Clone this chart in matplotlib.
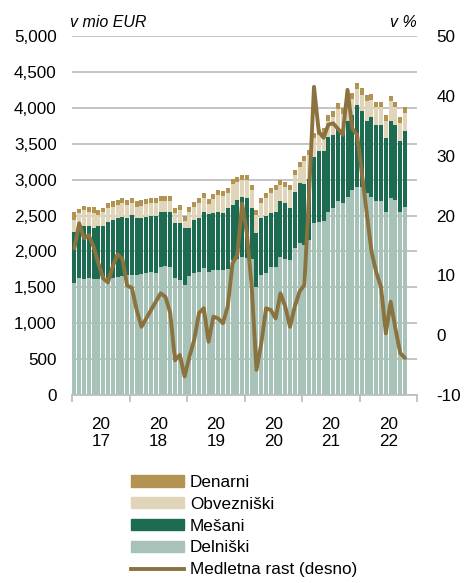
import numpy as np
import matplotlib
matplotlib.use("Agg")
import matplotlib.pyplot as plt
from matplotlib.patches import Patch
from matplotlib.lines import Line2D
from matplotlib.ticker import FuncFormatter

plt.rcParams['font.family'] = ['Liberation Sans', 'DejaVu Sans']
plt.rcParams['axes.unicode_minus'] = False

years = ['20\n17', '20\n18', '20\n19', '20\n20', '20\n21', '20\n22']

# monthly values Jan 2017 - Oct 2022, mio EUR
delniski = [1555, 1625, 1620, 1625, 1620, 1615, 1620, 1625, 1635, 1645, 1655, 1670,
            1672, 1675, 1690, 1705, 1710, 1705, 1785, 1790, 1780, 1625, 1600, 1530,
            1660, 1700, 1710, 1765, 1720, 1745, 1745, 1740, 1760, 1880, 1900, 1920,
            1910, 1900, 1505, 1670, 1700, 1785, 1785, 1925, 1900, 1880, 2045, 2115,
            2090, 2160, 2395, 2415, 2430, 2555, 2600, 2695, 2670, 2760, 2855, 2900,
            2900, 2810, 2760, 2695, 2695, 2555, 2745, 2715, 2555, 2625]
mesani = [720, 730, 740, 730, 700, 740, 735, 790, 805, 815, 830, 800,
          835, 785, 770, 775, 790, 785, 770, 765, 770, 765, 800, 790,
          670, 740, 750, 790, 800, 795, 800, 790, 840, 765, 815, 840,
          835, 705, 750, 795, 790, 745, 765, 770, 770, 720, 785, 835,
          850, 850, 925, 985, 970, 1045, 1020, 1025, 1010, 1050, 1045, 1140,
          1055, 1000, 1115, 1065, 1065, 1025, 1070, 1045, 985, 1055]
obveznisk = [160, 180, 215, 190, 220, 155, 190, 185, 185, 190, 190, 180,
             163, 165, 175, 180, 180, 180, 145, 145, 150, 150, 175, 100,
             225, 185, 215, 195, 140, 190, 240, 245, 215, 295, 250, 230,
             250, 250, 255, 210, 255, 285, 305, 230, 220, 255, 230, 225,
             320, 330, 255, 225, 240, 220, 255, 265, 240, 240, 220, 220,
             230, 290, 230, 245, 245, 240, 275, 245, 255, 250]
denarni = [110, 55, 55, 80, 80, 70, 55, 70, 75, 70, 65, 70,
           70, 75, 75, 70, 65, 70, 75, 75, 70, 70, 70, 70,
           70, 65, 65, 70, 70, 70, 65, 65, 70, 70, 65, 70,
           70, 70, 65, 70, 70, 70, 70, 70, 70, 70, 75, 75,
           75, 75, 75, 75, 80, 80, 80, 80, 80, 85, 85, 85,
           85, 80, 85, 80, 80, 80, 80, 80, 80, 80]
# year-on-year growth, %
rast = [14.5, 18.7, 16.2, 16.7, 14.8, 12.0, 9.5, 8.8, 11.5, 13.5, 12.8, 8.3,
        7.9, 4.2, 1.4, 2.8, 4.2, 5.6, 7.0, 6.4, 3.7, -4.2, -3.3, -6.9,
        -3.6, -0.8, 3.7, 4.5, -1.1, 3.1, 2.8, 2.0, 4.8, 12.0, 13.4, 22.0,
        17.0, 8.1, -5.8, -1.4, 4.5, 4.2, 2.8, 7.0, 4.8, 1.4, 4.8, 7.3,
        8.4, 24.0, 41.5, 34.0, 33.0, 35.2, 35.4, 34.5, 33.5, 41.0, 34.5, 33.5,
        27.0, 20.5, 14.0, 10.5, 8.0, 0.3, 5.6, 1.1, -3.0, -3.8]

c_den = '#B39351'
c_obv = '#E0D5B9'
c_mes = '#1D6B50'
c_del = '#A7C3B8'
c_line = '#8B733F'
c_grid = '#BFBFBF'

W, H = 465, 583
fig = plt.figure(figsize=(W / 100, H / 100), dpi=100)
ax = fig.add_axes([72 / W, 1 - 395 / H, 345 / W, 359 / H])

x = np.arange(len(delniski))
d = np.array(delniski, float)
m = np.array(mesani, float)
o = np.array(obveznisk, float)
n = np.array(denarni, float)
bw = 0.84
ax.bar(x, d, width=bw, color=c_del, zorder=2, linewidth=0)
ax.bar(x, m, width=bw, bottom=d, color=c_mes, zorder=2, linewidth=0)
ax.bar(x, o, width=bw, bottom=d + m, color=c_obv, zorder=2, linewidth=0)
ax.bar(x, n, width=bw, bottom=d + m + o, color=c_den, zorder=2, linewidth=0)

ax.set_xlim(-0.5, 71.5)
ax.set_ylim(0, 5000)
ax.set_yticks(np.arange(0, 5001, 500))
ax.yaxis.set_major_formatter(FuncFormatter(lambda v, p: f'{int(v):,}'))
ax.yaxis.grid(True, color=c_grid, linewidth=1.3)
ax.set_axisbelow(True)
for s in ['top', 'left', 'right']:
    ax.spines[s].set_visible(False)
ax.spines['bottom'].set_color(c_grid)
ax.spines['bottom'].set_linewidth(1.3)
ax.tick_params(axis='y', length=0, pad=11, labelsize=12.3)

ax.set_xticks(np.arange(-0.5, 72, 12))
ax.set_xticklabels([])
ax.tick_params(axis='x', which='major', length=5, width=1.3, color=c_grid, direction='out')
ax.set_xticks(np.arange(5.5, 72, 12), minor=True)
ax.set_xticklabels(years, minor=True, fontsize=12.3, linespacing=1.15)
ax.tick_params(axis='x', which='minor', length=0, pad=16)

ax2 = ax.twinx()
ax2.set_ylim(-10, 50)
ax2.set_yticks(np.arange(-10, 51, 10))
for s in ax2.spines.values():
    s.set_visible(False)
ax2.tick_params(axis='y', length=0, pad=14, labelsize=12.3)
ax2.plot(x, rast, color=c_line, linewidth=2.8, solid_joinstyle='round',
         solid_capstyle='round', zorder=5)

fig.text(70 / W, 1 - 27 / H, 'v mio EUR', style='italic', fontsize=11.5, ha='left', va='baseline')
fig.text(417 / W, 1 - 27 / H, 'v %', style='italic', fontsize=11.5, ha='right', va='baseline')

handles = [Patch(color=c_den), Patch(color=c_obv), Patch(color=c_mes), Patch(color=c_del),
           Line2D([], [], color=c_line, linewidth=2.8)]
labels = ['Denarni', 'Obvezniški', 'Mešani', 'Delniški', 'Medletna rast (desno)']
fig.legend(handles, labels, loc='upper left', bbox_to_anchor=(131 / W, 1 - 475 / H),
           frameon=False, fontsize=12.3, handlelength=3.1, handleheight=0.62,
           handletextpad=0.35, labelspacing=0.4, borderpad=0, borderaxespad=0)

fig.savefig('out.png', dpi=100)
